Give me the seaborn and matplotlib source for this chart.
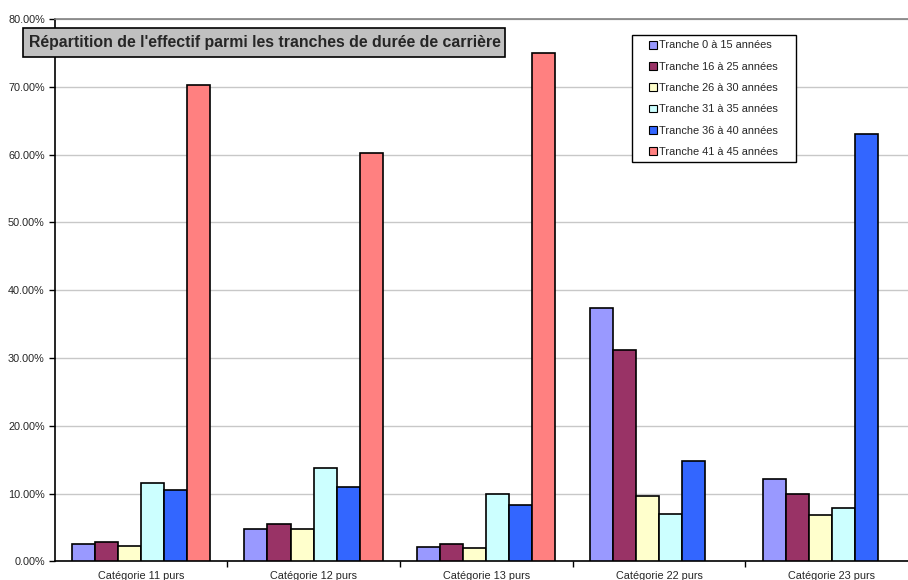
import matplotlib
matplotlib.use("Agg")
import matplotlib.pyplot as plt
from matplotlib.patches import Rectangle
from matplotlib.ticker import FixedLocator, FuncFormatter
import numpy as np
import pandas as pd
import seaborn as sns

categories = ["Catégorie 11 purs", "Catégorie 12 purs", "Catégorie 13 purs",
              "Catégorie 22 purs", "Catégorie 23 purs"]
tranches = ["Tranche 0 à 15 années", "Tranche 16 à 25 années", "Tranche 26 à 30 années",
            "Tranche 31 à 35 années", "Tranche 36 à 40 années", "Tranche 41 à 45 années"]

# share of staff (%) per tranche, one list per category
cat_11 = [2.6, 2.9, 2.2, 11.6, 10.5, 70.3]
cat_12 = [4.7, 5.5, 4.7, 13.8, 10.9, 60.2]
cat_13 = [2.1, 2.5, 2.0, 9.9, 8.3, 75.0]
cat_22 = [37.3, 31.2, 9.7, 7.0, 14.8, np.nan]
cat_23 = [12.1, 9.9, 6.8, 7.9, 63.0, np.nan]

colors = ["#9999FF", "#993366", "#FFFFCC", "#CCFFFF", "#3366FF", "#FF8080"]

rows = []
for cat, vals in zip(categories, [cat_11, cat_12, cat_13, cat_22, cat_23]):
    for tr, v in zip(tranches, vals):
        rows.append({"categorie": cat, "tranche": tr, "part": v})
df = pd.DataFrame(rows)

sns.set_style("white")
plt.rcParams["font.family"] = ["Liberation Sans", "DejaVu Sans"]

fig = plt.figure(figsize=(9.08, 5.8), dpi=100)
ax = fig.add_axes([54.5 / 908, 18.7 / 580, 863.5 / 908, 542.3 / 580])

sns.barplot(data=df, x="categorie", y="part", hue="tranche",
            order=categories, hue_order=tranches, palette=colors,
            width=0.8, edgecolor="black", linewidth=1.2, saturation=1,
            errorbar=None, ax=ax, zorder=3)

ax.set_xlim(-0.5, 4.5)
ax.set_ylim(0, 80)
ax.set_xlabel("")
ax.set_ylabel("")

ax.yaxis.set_major_locator(FixedLocator(np.arange(0, 81, 10)))
ax.yaxis.set_major_formatter(FuncFormatter(lambda v, p: f"{v:.2f}%"))
ax.grid(axis="y", color="#c8c8c8", linewidth=1.0, zorder=0)
ax.set_axisbelow(True)

ax.tick_params(axis="y", which="major", direction="out", length=4, width=1,
               color="black", labelsize=7.8, pad=3, left=True)
ax.tick_params(axis="x", which="major", length=0, labelsize=7.8, pad=7)
ax.xaxis.set_minor_locator(FixedLocator(np.arange(0.5, 4.6, 1.0)))
ax.tick_params(axis="x", which="minor", direction="out", length=4, width=1,
               color="black", bottom=True)

for side in ["left", "bottom"]:
    ax.spines[side].set_color("black")
    ax.spines[side].set_linewidth(1.2)
ax.spines["top"].set_color("#808080")
ax.spines["top"].set_linewidth(1.2)
ax.spines["right"].set_visible(False)

# legend with a plain square frame
handles, labels = ax.get_legend_handles_labels()
ax.legend_.remove()
for h in handles:
    h.set_edgecolor("black")
    h.set_linewidth(0.8)
leg = fig.legend(handles, labels, loc="upper left",
                 bbox_to_anchor=(649 / 908, 1 - 40.5 / 580),
                 bbox_transform=fig.transFigure, frameon=False,
                 fontsize=7.9, handlelength=0.7, handleheight=0.7,
                 handletextpad=0.2, labelspacing=1.03, borderpad=0,
                 borderaxespad=0)
fig.add_artist(Rectangle((632 / 908, 1 - 162 / 580), 164 / 908, 127 / 580,
                         transform=fig.transFigure, facecolor="white",
                         edgecolor="black", linewidth=1.0, zorder=4))
leg.set_zorder(5)

# title box
fig.add_artist(Rectangle((23 / 908, 1 - 57 / 580), 482 / 908, 29 / 580,
                         transform=fig.transFigure, facecolor="#c0c0c0",
                         edgecolor="black", linewidth=1.2, zorder=4))
fig.text(264.5 / 908, 1 - 43 / 580,
         "Répartition de l'effectif parmi les tranches de durée de carrière",
         ha="center", va="center", fontsize=11.4, fontweight="bold", zorder=5)

fig.savefig("out.png", dpi=100)
